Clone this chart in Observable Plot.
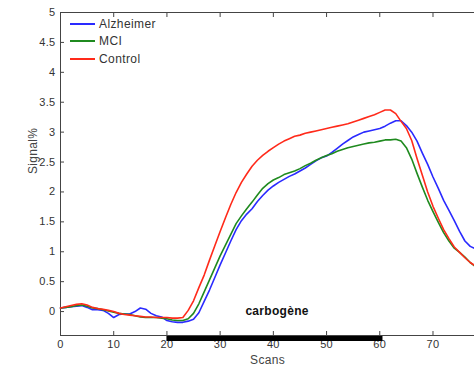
<!DOCTYPE html>
<html><head><meta charset="utf-8">
<script src="https://cdn.jsdelivr.net/npm/d3@7"></script>
<script src="https://cdn.jsdelivr.net/npm/@observablehq/plot@0.6"></script>
<style>
html,body{margin:0;padding:0;background:#fff;overflow:hidden}
#wrap{position:relative;width:474px;height:369px}
#legend{position:absolute;left:70px;top:15px;font:12px "Liberation Sans",Arial,sans-serif;color:#333;letter-spacing:0.4px}
.row{height:17.5px;display:flex;align-items:center;white-space:nowrap}
.row svg{margin-right:4px}
</style></head><body><div id="wrap"></div>
<script>
const seriesNames = ["Alzheimer", "MCI", "Control"];
const seriesColors = ["#2a2aff", "#1f8a1f", "#ff2a1a"];
const scans = d3.range(0, 79);
const alzheimer = [0.06,0.07,0.08,0.09,0.10,0.07,0.03,0.03,0.02,-0.03,
  -0.10,-0.05,-0.04,-0.04,0.00,0.06,0.04,-0.03,-0.07,-0.09,
  -0.15,-0.17,-0.18,-0.18,-0.16,-0.13,-0.02,0.17,0.36,0.57,
  0.78,0.98,1.18,1.37,1.52,1.63,1.72,1.84,1.94,2.03,
  2.10,2.16,2.21,2.26,2.30,2.35,2.40,2.46,2.52,2.57,
  2.60,2.66,2.73,2.80,2.86,2.92,2.96,3.00,3.02,3.04,
  3.06,3.10,3.15,3.19,3.19,3.11,3.00,2.85,2.65,2.46,
  2.25,2.06,1.86,1.69,1.52,1.34,1.18,1.09,1.05];
const mci = [0.06,0.07,0.08,0.10,0.11,0.09,0.06,0.05,0.03,0.01,
  -0.01,-0.03,-0.04,-0.05,-0.07,-0.09,-0.10,-0.10,-0.10,-0.11,
  -0.12,-0.14,-0.15,-0.15,-0.12,-0.03,0.13,0.33,0.53,0.73,
  0.93,1.11,1.29,1.47,1.60,1.72,1.83,1.95,2.06,2.14,
  2.20,2.24,2.29,2.32,2.35,2.39,2.44,2.48,2.53,2.57,
  2.61,2.64,2.68,2.71,2.74,2.76,2.78,2.80,2.82,2.83,
  2.85,2.87,2.87,2.88,2.85,2.74,2.55,2.31,2.08,1.86,
  1.67,1.49,1.32,1.18,1.06,0.99,0.91,0.82,0.75];
const control = [0.06,0.08,0.10,0.12,0.13,0.11,0.07,0.05,0.04,0.02,
  0.00,-0.03,-0.05,-0.06,-0.07,-0.08,-0.09,-0.09,-0.10,-0.10,
  -0.10,-0.11,-0.11,-0.10,0.02,0.18,0.40,0.61,0.86,1.10,
  1.34,1.57,1.79,1.99,2.16,2.30,2.43,2.53,2.61,2.68,
  2.74,2.80,2.85,2.89,2.93,2.95,2.98,3.00,3.02,3.04,
  3.06,3.08,3.10,3.12,3.14,3.17,3.20,3.23,3.26,3.29,
  3.33,3.37,3.37,3.31,3.18,3.06,2.86,2.56,2.28,2.00,
  1.76,1.56,1.37,1.22,1.08,0.99,0.90,0.82,0.76];
const xTicks = [0,10,20,30,40,50,60,70];
const yTicks = [0,0.5,1,1.5,2,2.5,3,3.5,4,4.5,5];
const xDomain = [0, 77.8];
const yDomain = [-0.4, 5];
const stimulusLabel = "carbogène";
const stimulusStart = 20, stimulusEnd = 60.6;
const stimulusLabelPos = {x: 40.7, y: 0};
const xLabel = "Scans", yLabel = "Signal%";

const allSeries = [alzheimer, mci, control];
const rows = [];
allSeries.forEach((vals, i) => vals.forEach((v, j) => rows.push({scan: scans[j], value: v, group: seriesNames[i]})));

const font = '"Liberation Sans", Arial, sans-serif';
const axisColor = "#444";
const textColor = "#333";

const plot = Plot.plot({
  width: 474, height: 369,
  marginLeft: 60, marginRight: 0, marginTop: 12, marginBottom: 34,
  style: {fontFamily: font, fontSize: "11px", color: textColor, background: "#fff", letterSpacing: "0.3px"},
  x: {domain: xDomain},
  y: {domain: yDomain},
  color: {domain: seriesNames, range: seriesColors},
  marks: [
    Plot.frame({anchor: "top", stroke: axisColor}),
    Plot.frame({anchor: "left", stroke: axisColor}),
    Plot.frame({anchor: "bottom", stroke: axisColor}),
    Plot.axisX({ticks: xTicks, anchor: "bottom", tickSize: -4, tickPadding: 9, tickFormat: d => String(d), label: null, stroke: axisColor, fill: textColor}),
    Plot.axisX({ticks: xTicks, anchor: "top", tickSize: -4, text: null, label: null, stroke: axisColor}),
    Plot.axisY({ticks: yTicks, anchor: "left", tickSize: -4, tickPadding: 9, tickFormat: d => String(d), label: null, stroke: axisColor, fill: textColor}),
    Plot.text([xLabel], {frameAnchor: "bottom", text: d => d, dy: 28, fontSize: 12, letterSpacing: "1px", fill: "#444"}),
    Plot.text([yLabel], {frameAnchor: "left", text: d => d, dx: -27, rotate: -90, fontSize: 12, letterSpacing: "1px", fill: "#444"}),
    Plot.line(rows, {x: "scan", y: "value", z: "group", stroke: "group", strokeWidth: 1.6}),
    Plot.ruleY([{x1: stimulusStart, x2: stimulusEnd, y: yDomain[0]}], {x1: "x1", x2: "x2", y: "y", dy: 3, stroke: "#000", strokeWidth: 5, strokeLinecap: "butt"}),
    Plot.text([stimulusLabelPos], {x: "x", y: "y", text: () => stimulusLabel, fontSize: 12, fontWeight: "bold", fill: "#111"})
  ]
});
const wrap = document.getElementById("wrap");
wrap.appendChild(plot);
const legend = document.createElement("div");
legend.id = "legend";
seriesNames.forEach((name, i) => {
  const row = document.createElement("div");
  row.className = "row";
  row.innerHTML = `<svg width="25" height="4"><line x1="0" x2="25" y1="2" y2="2" stroke="${seriesColors[i]}" stroke-width="2"/></svg><span>${name}</span>`;
  legend.appendChild(row);
});
wrap.appendChild(legend);
</script></body></html>
